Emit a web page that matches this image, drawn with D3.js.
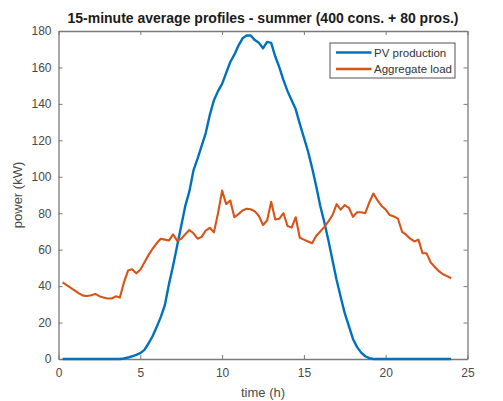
<!DOCTYPE html>
<html><head><meta charset="utf-8">
<script src="https://cdn.jsdelivr.net/npm/d3@7"></script>
<style>body{margin:0;background:#fff;}svg{display:block;font-family:"Liberation Sans",Arial,sans-serif;}</style>
</head><body>
<svg id="c" width="503" height="401"></svg>
<script>
const times = d3.range(1, 97).map(i => i * 0.25);
const pvProduction = [
 0,0,0,0,0,0,0,0,0,0,0,0,0,0,0,
 0.3,0.8,1.5,2.3,3.2,5,8.5,12.5,17.5,23,29.5,41,51,62,73,84,92,
 103.5,110,117,124,134,142,147,151,157,163,167,172,176,177.5,177.5,175,
 173.5,170.5,174,173.5,166,160,153,147,142,137,129,121.5,114,105,95,84,
 75,65,54,43.4,34,25,18,11,6.5,3.5,1.5,0.5,0,0,0,0,
 0,0,0,0,0,0,0,0,0,0,0,0,0,0,0,0
];
const aggregateLoad = [
 42,40.5,39,37.5,36,34.8,34.6,35,35.7,34.5,33.8,33.2,33.2,34.4,33.7,42,
 48.5,49.2,47,49,53,57,60.5,63.5,66,65.5,65,68.4,65,66,68.5,70.8,
 69,66,67,70.5,72,69.5,80,92.4,85,87,77.8,79.5,81.5,82.5,82.2,81,
 78.5,73.5,76,86.3,76.5,77,80,73,72.1,77.8,66.5,65.5,64.5,63.5,67.5,70,
 72.5,75.5,79,85,82,84.5,83,78,80.5,80.5,80,86,90.8,87,84,82,
 79,78.2,77,69.8,68.2,66,64.5,65.5,58,58,53,50.5,48.2,46.5,45.5,44.3
];
const xTicks = [0,5,10,15,20,25];
const yTicks = [0,20,40,60,80,100,120,140,160,180];
const seriesNames = ["PV production","Aggregate load"];
const seriesColors = ["#0072BD","#D95319"];
const titleText = "15-minute average profiles - summer (400 cons. + 80 pros.)";

const svg = d3.select("#c");
const L = 58.5, R = 467.5, T = 31, B = 359;
const x = d3.scaleLinear().domain([0,25]).range([L,R]);
const y = d3.scaleLinear().domain([0,180]).range([B,T]);
const axisColor = "#7a7a7a", textColor = "#4a4a4a";

// axes
const gx = svg.append("g").attr("transform",`translate(0,${B})`)
  .call(d3.axisBottom(x).tickValues(xTicks).tickSizeInner(-4).tickSizeOuter(0).tickPadding(9));
const gy = svg.append("g").attr("transform",`translate(${L},0)`)
  .call(d3.axisLeft(y).tickValues(yTicks).tickSizeInner(-4).tickSizeOuter(0).tickPadding(7));
const gx2 = svg.append("g").attr("transform",`translate(0,${T})`)
  .call(d3.axisTop(x).tickValues(xTicks).tickSizeInner(-4).tickSizeOuter(0).tickFormat(""));
const gy2 = svg.append("g").attr("transform",`translate(${R},0)`)
  .call(d3.axisRight(y).tickValues(yTicks).tickSizeInner(-4).tickSizeOuter(0).tickFormat(""));
[gx,gy,gx2,gy2].forEach(g=>{
  g.selectAll("path.domain").attr("stroke",axisColor).attr("stroke-width",1.3);
  g.selectAll(".tick line").attr("stroke",axisColor);
  g.selectAll(".tick text").attr("fill",textColor).attr("font-size",12)
    .attr("font-family","'Liberation Sans',Arial,sans-serif");
});

// lines
const data = [pvProduction, aggregateLoad];
const line = d3.line().x((d,i)=>x(times[i])).y(d=>y(d));
svg.append("g").selectAll("path").data(data).join("path")
  .attr("d", line).attr("fill","none")
  .attr("stroke",(d,i)=>seriesColors[i]).attr("stroke-width",(d,i)=>i===0?2.4:2.1)
  .attr("stroke-linejoin","round");

// title & labels
svg.append("text").attr("x",(L+R)/2).attr("y",23).attr("text-anchor","middle")
  .attr("font-weight","bold").attr("font-size",14).attr("fill","#1a1a1a").text(titleText);
svg.append("text").attr("x",(L+R)/2).attr("y",397).attr("text-anchor","middle")
  .attr("font-size",13).attr("fill",textColor).text("time (h)");
svg.append("text").attr("transform",`translate(22,${(T+B)/2}) rotate(-90)`).attr("text-anchor","middle")
  .attr("font-size",13).attr("fill",textColor).text("power (kW)");

// legend
const lg = svg.append("g");
lg.append("rect").attr("x",330).attr("y",43).attr("width",125).attr("height",35)
  .attr("fill","#fff").attr("stroke","#555").attr("stroke-width",1);
seriesNames.forEach((n,i)=>{
  const yy = 52.5 + i*16.5;
  lg.append("line").attr("x1",336).attr("x2",371.5).attr("y1",yy).attr("y2",yy)
    .attr("stroke",seriesColors[i]).attr("stroke-width",2.4);
  lg.append("text").attr("x",374).attr("y",yy+4).attr("font-size",11.5).attr("fill","#333").text(n);
});
</script>
</body></html>
